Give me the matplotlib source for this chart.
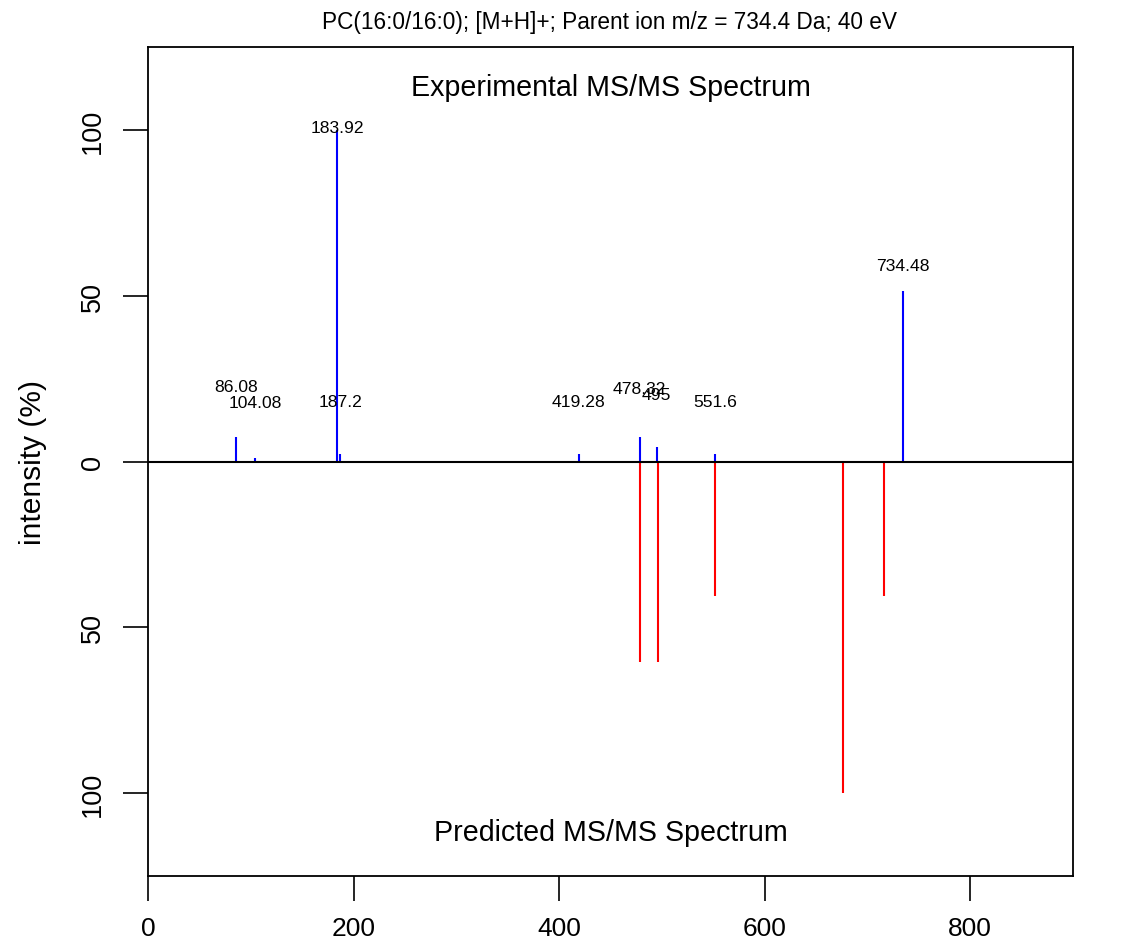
import matplotlib.pyplot as plt

plt.rcParams['font.family'] = ['Liberation Sans', 'DejaVu Sans']

# experimental peaks (m/z, relative intensity %)
exp_mz = [86.08, 104.08, 183.92, 187.2, 419.28, 478.32, 495.0, 551.6, 734.48]
exp_int = [7.5, 1.2, 100.0, 2.4, 2.4, 7.5, 4.5, 2.4, 51.4]
exp_labels = ['86.08', '104.08', '183.92', '187.2', '419.28', '478.32', '495', '551.6', '734.48']
# heights at which the peak labels sit
label_y = [22.7, 17.8, 100.6, 18.1, 18.1, 22.1, 20.2, 18.1, 59.2]

# predicted peaks, drawn downward
pred_mz = [478.8, 496.4, 551.8, 676.4, 716.3]
pred_int = [60.4, 60.4, 40.5, 100.0, 40.5]

title = 'PC(16:0/16:0); [M+H]+; Parent ion m/z = 734.4 Da; 40 eV'

fig = plt.figure(figsize=(11.36, 9.45), dpi=100)
ax = fig.add_axes([148 / 1136, 1 - 877 / 945, 925 / 1136, 829 / 945])

ax.vlines(exp_mz, 0, exp_int, color='#0000ff', lw=1.5)
ax.vlines(pred_mz, 0, [-v for v in pred_int], color='#ff0000', lw=1.5)
ax.axhline(0, color='black', lw=1.5)

for x, y, lab in zip(exp_mz, label_y, exp_labels):
    ax.text(x, y, lab, ha='center', va='center', fontsize=12.6)

ax.text(450, 113, 'Experimental MS/MS Spectrum', ha='center', va='center', fontsize=20.6)
ax.text(450, -111.7, 'Predicted MS/MS Spectrum', ha='center', va='center', fontsize=20.6)

ax.set_xlim(0, 900)
ax.set_ylim(-125, 125)
ax.set_xticks([0, 200, 400, 600, 800])
ax.set_yticks([-100, -50, 0, 50, 100])
ax.set_yticklabels(['100', '50', '0', '50', '100'], rotation=90, va='center')
ax.tick_params(axis='x', length=18, width=1.2, pad=11, labelsize=19)
ax.tick_params(axis='y', length=18, width=1.2, pad=12, labelsize=19.5)
for s in ax.spines.values():
    s.set_linewidth(1.3)

ax.set_ylabel('intensity (%)', fontsize=21.5, labelpad=24)
fig.text(610 / 1136, 1 - 22 / 945, title, ha='center', va='center', fontsize=16.3)

fig.savefig('out.png', dpi=100)
